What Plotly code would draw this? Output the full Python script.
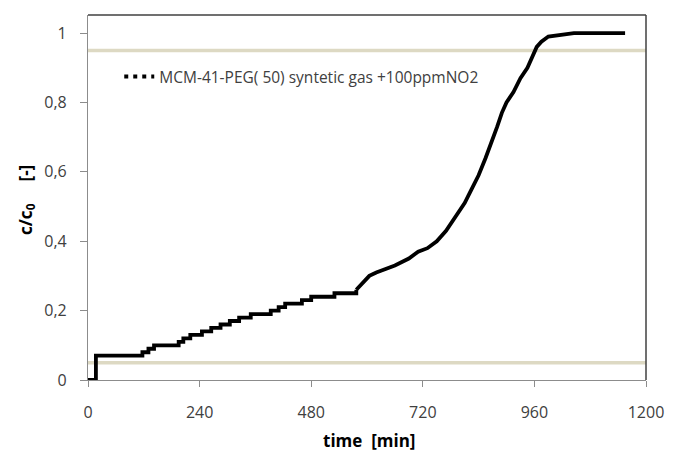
import plotly.graph_objects as go

# Stepwise early part
step_time = [0, 17, 117, 130, 142, 195, 205, 220, 245, 265, 285, 305, 325, 350, 393, 410, 424, 460, 480, 530, 577]
step_c = [0, 0.07, 0.08, 0.09, 0.10, 0.11, 0.12, 0.13, 0.14, 0.15, 0.16, 0.17, 0.18, 0.19, 0.20, 0.21, 0.22, 0.23, 0.24, 0.25, 0.26]

# Breakthrough part
rise_time = [577, 590, 605, 620, 640, 660, 690, 710, 730, 750, 770, 790, 810, 825, 840, 855, 870, 880, 890, 900, 915, 930, 945, 955, 965, 975, 990, 1045, 1155]
rise_c = [0.26, 0.28, 0.30, 0.31, 0.32, 0.33, 0.35, 0.37, 0.38, 0.40, 0.43, 0.47, 0.51, 0.55, 0.59, 0.64, 0.69, 0.73, 0.77, 0.80, 0.83, 0.87, 0.90, 0.93, 0.96, 0.975, 0.99, 1.0, 1.0]

upper_level = 0.95
lower_level = 0.05
x_limits = [0, 1200]

x_ticks = [0, 240, 480, 720, 960, 1200]
y_ticks = [0, 0.2, 0.4, 0.6, 0.8, 1.0]
y_tick_labels = ["0", "0,2", "0,4", "0,6", "0,8", "1"]

legend_name = "MCM-41-PEG( 50) syntetic gas +100ppmNO2"

band_color = "#DDD9C3"
font_family = "Open Sans, Noto Sans, sans-serif"
text_color = "#404040"

fig = go.Figure()

fig.add_trace(go.Scatter(x=x_limits, y=[upper_level, upper_level], mode="lines",
                         line=dict(color=band_color, width=3.5), showlegend=False, hoverinfo="skip"))
fig.add_trace(go.Scatter(x=x_limits, y=[lower_level, lower_level], mode="lines",
                         line=dict(color=band_color, width=3.5), showlegend=False, hoverinfo="skip"))

fig.add_trace(go.Scatter(x=step_time, y=step_c, mode="lines", line_shape="hv",
                         line=dict(color="black", width=3.8), showlegend=False))
fig.add_trace(go.Scatter(x=rise_time, y=rise_c, mode="lines",
                         line=dict(color="black", width=3.8), showlegend=False))
# legend entry (dotted sample as in the original)
fig.add_trace(go.Scatter(x=[None], y=[None], mode="lines", name=legend_name,
                         line=dict(color="black", width=4, dash="4px,5px")))

fig.update_layout(
    width=676, height=453,
    margin=dict(l=88, r=22, t=15, b=73),
    plot_bgcolor="white", paper_bgcolor="white",
    font=dict(family=font_family, color=text_color, size=15),
    separators=",.",
    showlegend=True,
    legend=dict(x=0.056, y=(380 - 77) / 365, xanchor="left", yanchor="middle",
                bgcolor="rgba(0,0,0,0)", font=dict(size=15.5, color=text_color)),
)

fig.update_xaxes(range=x_limits, tickvals=x_ticks, ticks="outside", ticklen=6,
                 tickcolor="#8c8c8c", linecolor="#8c8c8c", linewidth=1.2, showline=True,
                 showgrid=False, zeroline=False, ticklabelstandoff=12,
                 tickfont=dict(size=16, color=text_color))
fig.update_yaxes(range=[0, 1.052], tickvals=y_ticks, ticktext=y_tick_labels, ticks="outside",
                 ticklen=7, tickcolor="#8c8c8c", linecolor="#8c8c8c", linewidth=1.2,
                 showline=True, showgrid=False, zeroline=False, ticklabelstandoff=10,
                 tickfont=dict(size=16, color=text_color))

# top and right frame
fig.add_shape(type="line", xref="paper", yref="paper", x0=0, x1=1, y0=1, y1=1,
              line=dict(color="#404040", width=1.5))
fig.add_shape(type="line", xref="paper", yref="paper", x0=1, x1=1, y0=0, y1=1,
              line=dict(color="#404040", width=1.5))

fig.add_annotation(text="<b>time  [min]</b>", xref="paper", yref="paper",
                   x=(373 - 88) / 566, y=-(440 - 380) / 365, showarrow=False,
                   font=dict(size=17, color="black"), xanchor="center", yanchor="middle")
fig.add_annotation(text="<b>c/c<sub>0</sub>     [-]</b>", xref="paper", yref="paper",
                   x=-(88 - 25) / 566, y=(380 - 200) / 365, showarrow=False, textangle=-90,
                   font=dict(size=17, color="black"), xanchor="center", yanchor="middle")

fig.write_html("out.html", config={"displayModeBar": False},
               post_script="document.body.style.margin='0';")
